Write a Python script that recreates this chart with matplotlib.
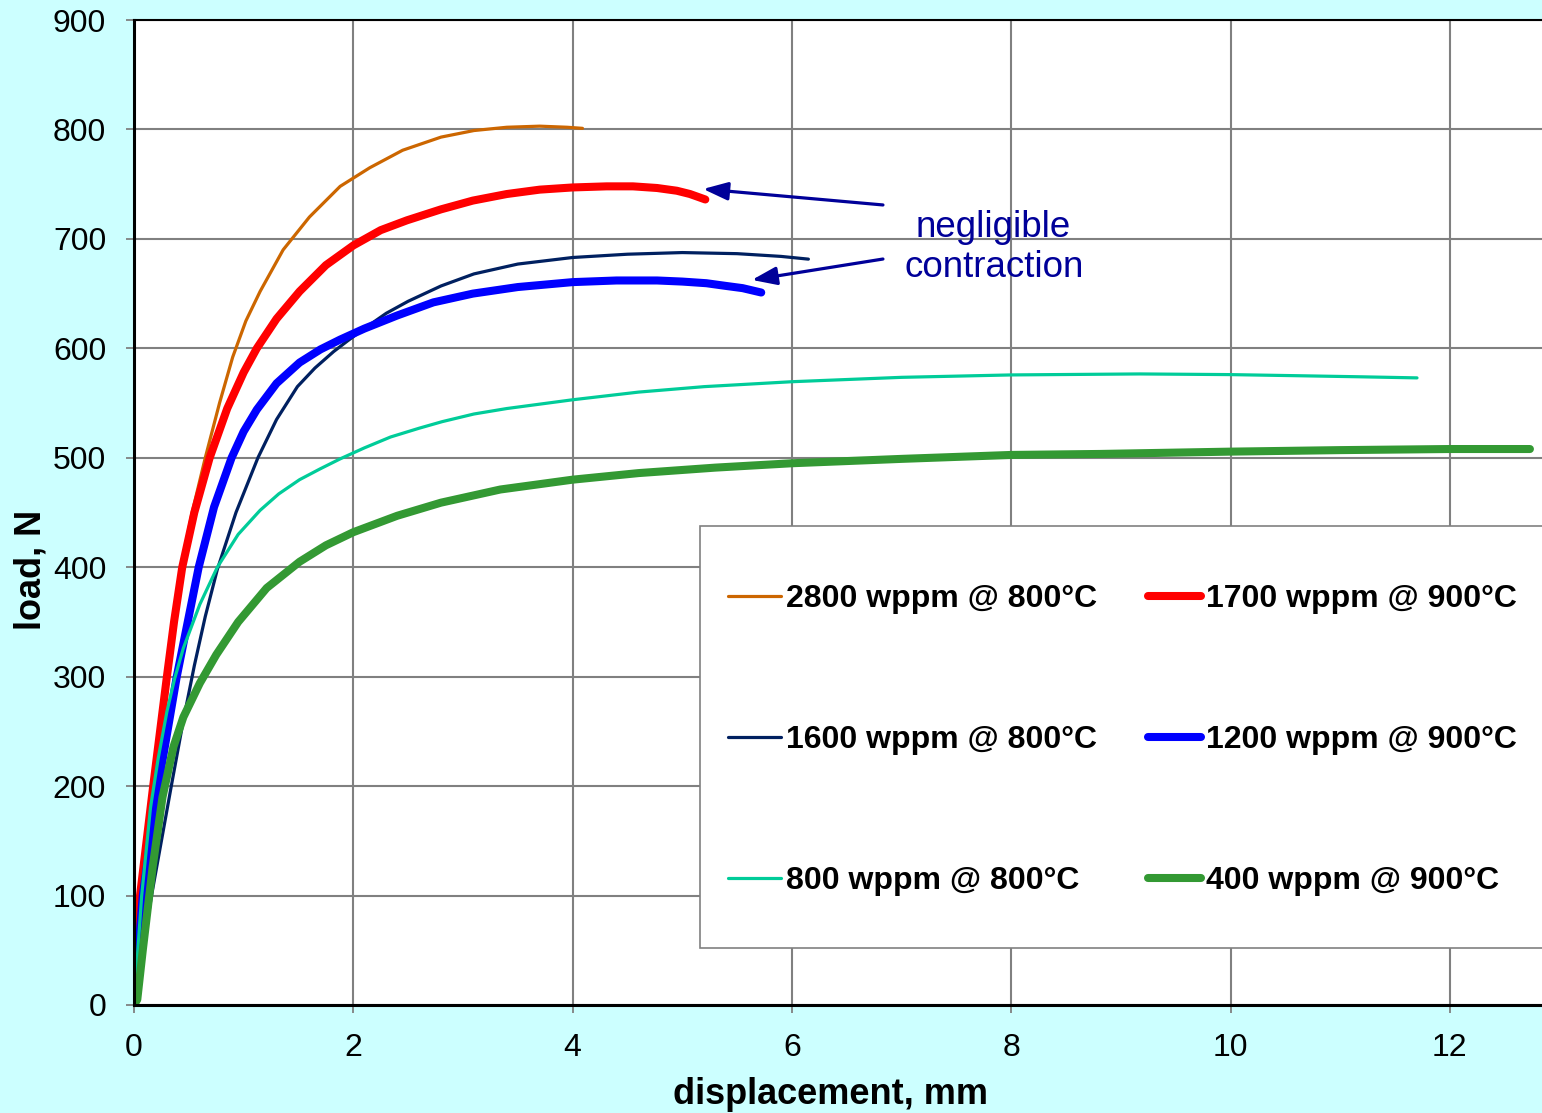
import numpy as np
import matplotlib
matplotlib.use("Agg")
import matplotlib.pyplot as plt
from matplotlib.patches import Rectangle

plt.rcParams['font.family'] = ['Liberation Sans', 'DejaVu Sans']

# load-displacement curves, values
x_2800 = [0, 0.06, 0.17, 0.30, 0.365, 0.43, 0.53, 0.65, 0.78, 0.90, 1.02, 1.15, 1.36, 1.60, 1.88, 2.15, 2.45, 2.80, 3.10, 3.40, 3.70, 3.95, 4.09]
y_2800 = [0, 100, 200, 300, 350, 400, 450, 500, 550, 592, 625, 652, 690, 720, 748, 765, 781, 793, 799, 802, 803, 802, 801]

x_1700 = [0, 0.055, 0.175, 0.30, 0.365, 0.44, 0.55, 0.69, 0.85, 1.00, 1.12, 1.30, 1.51, 1.75, 2.00, 2.25, 2.49, 2.80, 3.09, 3.40, 3.70, 4.00, 4.31, 4.55, 4.77, 4.95, 5.07, 5.21]
y_1700 = [0, 100, 200, 300, 350, 400, 450, 500, 545, 578, 600, 627, 652, 676, 694, 708, 717, 727, 735, 741, 745, 747, 748, 748, 746.5, 744, 741, 736]

x_1600 = [0, 0.16, 0.34, 0.45, 0.55, 0.65, 0.76, 0.93, 1.13, 1.30, 1.49, 1.65, 1.82, 1.95, 2.10, 2.30, 2.50, 2.80, 3.10, 3.50, 4.00, 4.50, 5.00, 5.50, 5.90, 6.15]
y_1600 = [0, 100, 200, 260, 310, 355, 398, 450, 500, 535, 565, 582, 597, 607, 618, 632, 643, 657, 668, 677, 683, 686, 687.5, 686.5, 684, 681.5]

x_1200 = [0, 0.08, 0.22, 0.39, 0.59, 0.73, 0.89, 1.00, 1.12, 1.30, 1.51, 1.70, 1.88, 2.10, 2.40, 2.73, 3.09, 3.50, 4.00, 4.40, 4.77, 5.00, 5.22, 5.40, 5.55, 5.72]
y_1200 = [0, 100, 200, 300, 400, 455, 500, 524, 544, 568, 587, 599, 608, 618, 630, 642, 650, 656, 660.5, 662, 662, 661, 659.5, 657, 655, 651]

x_800 = [0, 0.07, 0.15, 0.22, 0.30, 0.37, 0.45, 0.60, 0.76, 0.95, 1.15, 1.32, 1.51, 1.70, 1.88, 2.10, 2.34, 2.60, 2.81, 3.10, 3.40, 4.00, 4.60, 5.20, 6.00, 7.00, 8.00, 9.17, 9.99, 10.60, 11.18, 11.70]
y_800 = [0, 100, 180, 225, 268, 298, 326, 366, 400, 430, 452, 467, 480, 490, 499, 509, 519, 527, 533, 540, 545, 553, 560, 565, 569.5, 573.5, 575.7, 576.6, 576, 575, 574, 573]

x_400 = [0, 0.03, 0.08, 0.17, 0.26, 0.36, 0.45, 0.60, 0.75, 0.95, 1.21, 1.51, 1.75, 2.00, 2.40, 2.80, 3.34, 4.00, 4.60, 5.30, 6.00, 7.00, 8.00, 8.81, 9.99, 11.00, 12.00, 12.73]
y_400 = [0, 5, 50, 126, 190, 236, 263, 294, 320, 350, 381, 405, 420, 432, 447, 459, 471, 480, 486, 491, 495, 499, 502.6, 503.5, 505.6, 507, 508, 508]

labels = ["2800 wppm @ 800°C", "1700 wppm @ 900°C", "1600 wppm @ 800°C",
          "1200 wppm @ 900°C", "800 wppm @ 800°C", "400 wppm @ 900°C"]

bg = '#CCFFFF'
note_col = '#000099'

fig = plt.figure(figsize=(15.42, 11.13), dpi=100, facecolor=bg)
ax = fig.add_axes([134/1542, 108/1113, 1 - 134/1542, 985/1113])
ax.set_facecolor('white')

thin = 2.3
thick = 5.8
l1, = ax.plot(x_2800, y_2800, color='#CC6600', lw=thin, solid_capstyle='round', label=labels[0])
l2, = ax.plot(x_1700, y_1700, color='#FF0000', lw=thick, solid_capstyle='round', label=labels[1])
l3, = ax.plot(x_1600, y_1600, color='#002060', lw=thin, solid_capstyle='round', label=labels[2])
l4, = ax.plot(x_1200, y_1200, color='#0000FF', lw=thick, solid_capstyle='round', label=labels[3])
l5, = ax.plot(x_800, y_800, color='#00CC99', lw=thin, solid_capstyle='round', label=labels[4])
l6, = ax.plot(x_400, y_400, color='#339933', lw=thick, solid_capstyle='round', label=labels[5])

ax.set_xlim(0, 12.84)
ax.set_ylim(0, 900)
ax.set_xticks(np.arange(0, 13, 2))
ax.set_yticks(np.arange(0, 901, 100))
ax.grid(True, color='#808080', lw=1.5)
ax.set_axisbelow(True)
ax.tick_params(labelsize=23, length=6, width=1.3, color='#808080', pad=14)

for s in ['left', 'bottom', 'top']:
    ax.spines[s].set_color('black')
ax.spines['left'].set_linewidth(2.2)
ax.spines['bottom'].set_linewidth(2.2)
ax.spines['top'].set_linewidth(1.5)
ax.spines['right'].set_visible(False)

ax.set_xlabel('displacement, mm', fontsize=26, fontweight='bold')
ax.set_ylabel('load, N', fontsize=26, fontweight='bold')
ax.xaxis.set_label_coords(0.495, -0.073)
ax.yaxis.set_label_coords(-0.061, 0.442)

# legend box
box = Rectangle((0.402, 0.0579), 0.62, 0.4284, transform=ax.transAxes,
                facecolor='white', edgecolor='#808080', lw=1.2, zorder=1.5, clip_on=False)
ax.add_patch(box)
ax.legend([l1, l3, l5, l2, l4, l6],
          [labels[0], labels[2], labels[4], labels[1], labels[3], labels[5]],
          ncol=2, frameon=False, loc='center', bbox_to_anchor=(0.702, 0.269),
          prop={'size': 23, 'weight': 'bold'}, handlelength=1.66,
          handletextpad=0.15, columnspacing=1.6, labelspacing=3.47)

# annotation
ax.text(7.84, 692, 'negligible\ncontraction', fontsize=26.5, color=note_col,
        ha='center', va='center')
arrow = dict(arrowstyle='-|>,head_length=0.6,head_width=0.22', color=note_col,
             lw=2.3, mutation_scale=25, shrinkA=0, shrinkB=0)
ax.annotate('', xy=(5.19, 745.6), xytext=(6.83, 731), arrowprops=arrow)
ax.annotate('', xy=(5.635, 662.5), xytext=(6.83, 681.6), arrowprops=arrow)

fig.savefig('out.png', dpi=100, facecolor=bg)
